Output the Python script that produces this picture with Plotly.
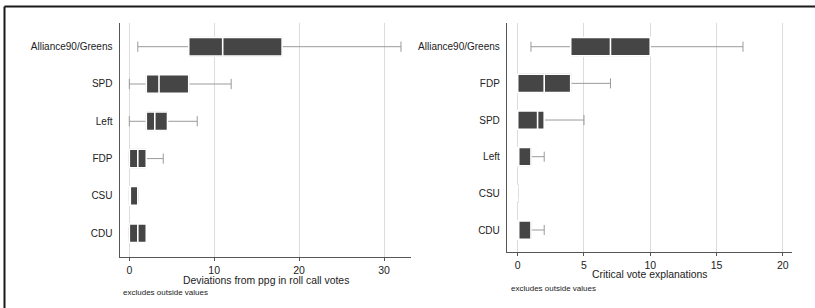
import plotly.graph_objects as go

# ---- Data: left panel (deviations from ppg in roll call votes) ----
left_parties = ["CDU", "CSU", "FDP", "Left", "SPD", "Alliance90/Greens"]
left_lower = [0, 0, 0, 0, 0, 1]
left_q1 = [0, 0, 0, 2, 2, 7]
left_median = [1, 0, 1, 3, 3.5, 11]
left_q3 = [2, 1, 2, 4.5, 7, 18]
left_upper = [2, 1, 4, 8, 12, 32]

# ---- Data: right panel (critical vote explanations) ----
right_parties = ["CDU", "CSU", "Left", "SPD", "FDP", "Alliance90/Greens"]
right_lower = [0, 0, 0, 0, 0, 1]
right_q1 = [0, 0, 0, 0, 0, 4]
right_median = [0, 0, 0, 1.5, 2, 7]
right_q3 = [1, 0, 1, 2, 4, 10]
right_upper = [2, 0, 2, 5, 7, 17]

left_xticks = [0, 10, 20, 30]
right_xticks = [0, 5, 10, 15, 20]

left_title = "Deviations from ppg in roll call votes"
right_title = "Critical vote explanations"
note_text = "excludes outside values"

BOX_FILL = "#454545"
WHISKER = "#9a9a9a"
FONT = "Liberation Sans, Arial, sans-serif"
TXT = "#222222"

W, H = 815, 308
def px_x(p):
    return p / W
def px_y(p):
    return 1 - p / H

fig = go.Figure()

def add_panel(cats, lo, q1, med, q3, hi, xa, ya):
    # whiskers layer
    fig.add_trace(go.Box(
        orientation="h", y=cats, q1=q1, median=med, q3=q3,
        lowerfence=lo, upperfence=hi,
        fillcolor="rgba(0,0,0,0)", line=dict(color=WHISKER, width=1),
        width=0.5, whiskerwidth=0.55, boxpoints=False,
        xaxis=xa, yaxis=ya, showlegend=False, hoverinfo="skip"))
    # box layer with white median
    fig.add_trace(go.Box(
        orientation="h", y=cats, q1=q1, median=med, q3=q3,
        lowerfence=q1, upperfence=q3,
        fillcolor=BOX_FILL, line=dict(color="white", width=1.6),
        width=0.5, whiskerwidth=0, boxpoints=False,
        xaxis=xa, yaxis=ya, showlegend=False, hoverinfo="skip"))

add_panel(left_parties, left_lower, left_q1, left_median, left_q3, left_upper, "x", "y")
add_panel(right_parties, right_lower, right_q1, right_median, right_q3, right_upper, "x2", "y2")

axis_common = dict(
    showline=True, linecolor="#555555", linewidth=1.5,
    gridcolor="#dcdcdc", gridwidth=1, zeroline=False,
    ticks="outside", ticklen=3, tickcolor="#555555", tickwidth=1,
    tickfont=dict(family=FONT, size=10.5, color=TXT),
    fixedrange=True,
)
ycommon = dict(
    showline=True, linecolor="#555555", linewidth=1.5,
    showgrid=False, zeroline=False, ticks="",
    tickfont=dict(family=FONT, size=10, color=TXT),
    ticklabelstandoff=4, type="category", fixedrange=True,
)

fig.update_layout(
    width=W, height=H,
    margin=dict(l=0, r=0, t=0, b=0),
    paper_bgcolor="white", plot_bgcolor="white",
    boxmode="overlay",
    xaxis=dict(axis_common, domain=[px_x(120), px_x(411)], range=[-1.095, 33.18],
               tickvals=left_xticks, anchor="y"),
    yaxis=dict(ycommon, domain=[px_y(256.7), px_y(22.7)], range=[-0.63, 5.643],
               categoryorder="array", categoryarray=left_parties, anchor="x"),
    xaxis2=dict(axis_common, domain=[px_x(507.3), px_x(792.3)], range=[-0.785, 20.72],
                tickvals=right_xticks, anchor="y2"),
    yaxis2=dict(ycommon, domain=[px_y(251.5), px_y(22.7)], range=[-0.586, 5.655],
                categoryorder="array", categoryarray=right_parties, anchor="x2"),
    shapes=[
        dict(type="line", xref="paper", yref="paper", x0=px_x(4.5), x1=1.0,
             y0=px_y(6.5), y1=px_y(6.5), line=dict(color="#1a1a1a", width=2)),
        dict(type="line", xref="paper", yref="paper", x0=px_x(4.5), x1=px_x(4.5),
             y0=px_y(6.5), y1=0, line=dict(color="#1a1a1a", width=2)),
    ],
    annotations=[
        dict(text=left_title, xref="paper", yref="paper",
             x=px_x(265.5), y=px_y(280), xanchor="center", yanchor="middle",
             showarrow=False, font=dict(family=FONT, size=10.4, color=TXT)),
        dict(text=right_title, xref="paper", yref="paper",
             x=px_x(649.8), y=px_y(274), xanchor="center", yanchor="middle",
             showarrow=False, font=dict(family=FONT, size=10.4, color=TXT)),
        dict(text=note_text, xref="paper", yref="paper",
             x=px_x(121), y=px_y(292.5), xanchor="left", yanchor="middle",
             showarrow=False, font=dict(family=FONT, size=8, color=TXT)),
        dict(text=note_text, xref="paper", yref="paper",
             x=px_x(509), y=px_y(288), xanchor="left", yanchor="middle",
             showarrow=False, font=dict(family=FONT, size=8, color=TXT)),
    ],
)

fig.write_html(
    "out.html",
    config={"displayModeBar": False, "staticPlot": True},
    post_script="document.body.style.margin='0';document.body.style.overflow='hidden';",
)
